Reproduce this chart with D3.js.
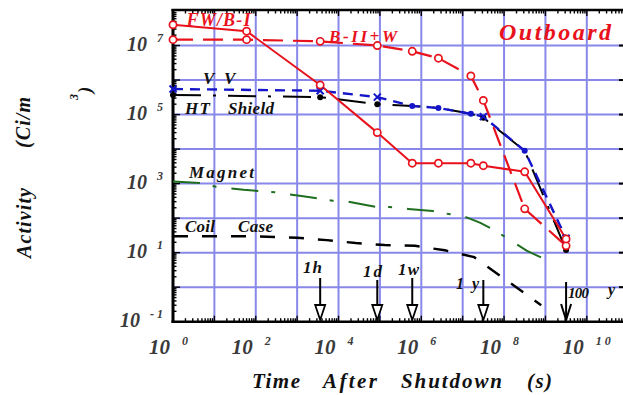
<!DOCTYPE html>
<html><head><meta charset="utf-8">
<script src="https://cdn.jsdelivr.net/npm/d3@7"></script>
<style>html,body{margin:0;padding:0;background:#fff;} svg{display:block;}</style>
</head><body>
<svg id="c" width="623" height="395"></svg>
<script>
// ---------------- data ----------------
const times   = [1, 60, 3600, 86400, 604800, 2.592e6, 1.577e7, 3.156e7, 3.156e8, 3.156e9];
const fwB1    = [4.0e7, 2.6e7, 7.2e5, 3.0e4, 3.9e3, 3.9e3, 3.9e3, 3.3e3, 2.2e3, 25];
const bIIW    = [1.48e7, 1.48e7, 1.32e7, 1.0e7, 6.8e6, 4.3e6, 1.32e6, 2.57e5, 186, 15.8];
const shieldTimes = [1, 3600, 86400, 604800, 2.592e6, 1.577e7, 3.156e7, 3.156e8, 3.156e9];
const vv      = [5.5e5, 4.9e5, 3.2e5, 1.78e5, 1.55e5, 1.05e5, 8.7e4, 8.9e3, 26];
const htShield= [3.7e5, 3.2e5, 2.0e5, 1.78e5, 1.55e5, 1.05e5, 8.1e4, 8.9e3, 12];
const magnetTimes = [1, 4.5, 11, 51, 290, 1.4e3, 7.2e3, 1.7e4, 8.5e4, 1.7e5, 4.8e5, 1.9e6, 4.9e6, 1.2e7, 2.6e7, 6e7, 1.4e8, 3.5e8, 1.4e9];
const magnet  = [1150, 1050, 810, 660, 560, 430, 320, 300, 210, 210, 185, 160, 130, 107, 74, 44, 23, 11.5, 5.2];
const coilTimes = [1, 72, 1000, 5200, 2.6e4, 1.3e5, 7.1e5, 3.7e6, 1.9e7, 7.9e8];
const coilCase  = [30, 30, 27, 23, 19, 16.6, 15.8, 11.7, 7.4, 0.3];
const markTimes = [3600, 86400, 604800, 3.156e7, 3.156e9];
const markLabels = ["1h", "1d", "1w", "1 y", "100"];
const xTickValues = [1e0, 1e2, 1e4, 1e6, 1e8, 1e10];
const xTickExp    = ["0", "2", "4", "6", "8", "1 0"];
const yTickValues = [1e-1, 1e1, 1e3, 1e5, 1e7];
const yTickExp    = ["- 1", "1", "3", "5", "7"];
const xTitleWords = ["Time", "After", "Shutdown", "(s)"];

// ---------------- setup ----------------
const svg = d3.select("#c");
const serif = "'Liberation Serif','Times New Roman',serif";
const x = d3.scaleLog().domain([1, 1e11]).range([173, 628.2]);
const y = d3.scaleLog().domain([0.1, 1e8]).range([321.7, 11]);
const RED = "#e8121c", BLUE = "#1414c8", GREEN = "#1f6e1f", GRID = "#8888ea";

function txt(g, s, px, py, size, fill, opts = {}) {
  const t = g.append("text").attr("x", px).attr("y", py)
    .attr("font-family", serif).attr("font-weight", "bold").attr("font-style", "italic")
    .attr("font-size", size).attr("fill", fill).attr("xml:space", "preserve").text(s);
  if (opts.anchor) t.attr("text-anchor", opts.anchor);
  if (opts.len) t.attr("textLength", opts.len).attr("lengthAdjust", "spacing");
  if (opts.rot) t.attr("transform", `rotate(-90,${px},${py})`);
  return t;
}

// ---------------- grid ----------------
const decX = d3.range(1, 11).map(e => Math.pow(10, e));
const decY = d3.range(0, 8).map(e => Math.pow(10, e));
const grid = svg.append("g");
grid.selectAll("line.v").data(decX).join("line")
  .attr("x1", d => x(d)).attr("x2", d => x(d)).attr("y1", 10).attr("y2", y(0.1))
  .attr("stroke", GRID).attr("stroke-width", 2);
grid.selectAll("line.h").data(decY).join("line")
  .attr("x1", x(1)).attr("x2", 623).attr("y1", d => y(d)).attr("y2", d => y(d))
  .attr("stroke", GRID).attr("stroke-width", 2);

// ---------------- axes / ticks ----------------
const ax = svg.append("g").attr("stroke", "#000");
const minorX = [];
for (let e = 0; e <= 10; e++) for (let k = 1; k <= 9; k++) { const v = k * Math.pow(10, e); if (x(v) <= 623) minorX.push({v, k}); }
const minorY = [];
for (let e = -1; e <= 7; e++) for (let k = 1; k <= 9; k++) minorY.push({v: k * Math.pow(10, e), k});
minorX.forEach(d => {
  const L = d.k === 1 ? 6 : 3.5;
  ax.append("line").attr("x1", x(d.v)).attr("x2", x(d.v)).attr("y1", 10).attr("y2", 10 + L).attr("stroke-width", 1.4);
  ax.append("line").attr("x1", x(d.v)).attr("x2", x(d.v)).attr("y1", 321.7).attr("y2", 321.7 - L).attr("stroke-width", 1.4);
});
minorY.forEach(d => {
  const L = d.k === 1 ? 7 : 3.5;
  ax.append("line").attr("x1", 173).attr("x2", 173 + L).attr("y1", y(d.v)).attr("y2", y(d.v)).attr("stroke-width", 1.4);
});
decY.forEach(v => ax.append("line").attr("x1", 628).attr("x2", 619).attr("y1", y(v)).attr("y2", y(v)).attr("stroke-width", 2));
ax.append("line").attr("x1", 171.5).attr("x2", 623).attr("y1", 10).attr("y2", 10).attr("stroke-width", 2.5);
ax.append("line").attr("x1", 171.5).attr("x2", 623).attr("y1", 321.7).attr("y2", 321.7).attr("stroke-width", 2.5);
ax.append("line").attr("x1", 173).attr("x2", 173).attr("y1", 9).attr("y2", 323).attr("stroke-width", 3);

// tick labels
const tl = svg.append("g");
xTickValues.forEach((v, i) => {
  txt(tl, "10", x(v) - 3, 353.5, 21, "#3a3a3a", {anchor: "end"});
  txt(tl, xTickExp[i], x(v) + 9, 345, 12, "#3a3a3a");
});
yTickValues.forEach((v, i) => {
  const s = txt(tl, yTickExp[i], 163, y(v) - 4, 12, "#3a3a3a", {anchor: "end"});
  const w = s.node().getComputedTextLength();
  txt(tl, "10", 163 - w - 10, y(v) + 5.5, 20, "#3a3a3a", {anchor: "end"});
});

// ---------------- series ----------------
const line = d3.line().x(d => x(d[0])).y(d => y(d[1]));
const S = svg.append("g").attr("fill", "none");
S.append("path").attr("d", line(d3.zip(coilTimes, coilCase))).attr("stroke", "#000").attr("stroke-width", 2.4).attr("stroke-dasharray", "15,14");
S.append("path").attr("d", line(d3.zip(magnetTimes, magnet))).attr("stroke", GREEN).attr("stroke-width", 2).attr("stroke-dasharray", "27,13,4,15");
S.append("path").attr("d", line(d3.zip(shieldTimes, htShield))).attr("stroke", "#000").attr("stroke-width", 2).attr("stroke-dasharray", "28,12,3,12");
S.append("path").attr("d", line(d3.zip(shieldTimes, vv))).attr("stroke", BLUE).attr("stroke-width", 2.4).attr("stroke-dasharray", "10,7");
S.append("path").attr("d", line(d3.zip(times, bIIW))).attr("stroke", RED).attr("stroke-width", 2.2).attr("stroke-dasharray", "20,10");
S.append("path").attr("d", line(d3.zip(times, fwB1))).attr("stroke", RED).attr("stroke-width", 2);

// markers
const M = svg.append("g");
const coincide = i => Math.abs(Math.log10(vv[i]) - Math.log10(htShield[i])) < 0.015;
shieldTimes.forEach((t, i) => {
  M.append("circle").attr("cx", x(t)).attr("cy", y(htShield[i])).attr("r", 3).attr("fill", coincide(i) ? BLUE : "#000");
});
shieldTimes.forEach((t, i) => {
  if (coincide(i)) return;
  const cx = x(t), cy = y(vv[i]), r = 3.5;
  M.append("path").attr("d", `M${cx - r},${cy - r}L${cx + r},${cy + r}M${cx - r},${cy + r}L${cx + r},${cy - r}`)
    .attr("stroke", BLUE).attr("stroke-width", 2);
});
[bIIW, fwB1].forEach(arr => times.forEach((t, i) => {
  M.append("circle").attr("cx", x(t)).attr("cy", y(arr[i])).attr("r", 3.6)
    .attr("fill", "#fff").attr("stroke", RED).attr("stroke-width", 1.7);
}));

// ---------------- time marker arrows ----------------
const A = svg.append("g").attr("stroke", "#000");
const arrowTop = [278, 280, 278, 280, 282];
markTimes.forEach((t, i) => {
  const ax0 = x(t);
  if (i < markTimes.length - 1) {
    A.append("line").attr("x1", ax0).attr("x2", ax0).attr("y1", arrowTop[i]).attr("y2", 306).attr("stroke-width", 2);
    A.append("path").attr("d", `M${ax0 - 5},305L${ax0 + 5},305L${ax0},320Z`).attr("fill", "#fff").attr("stroke-width", 1.8);
  } else {
    A.append("line").attr("x1", ax0).attr("x2", ax0).attr("y1", arrowTop[i]).attr("y2", 320).attr("stroke-width", 2);
    A.append("path").attr("d", `M${ax0 - 5},304L${ax0},320L${ax0 + 5},304`).attr("fill", "none").attr("stroke-width", 2);
  }
});
const L = svg.append("g");
txt(L, markLabels[0], 303, 272.5, 17, "#111", {len: 19});
txt(L, markLabels[1], 363, 276.5, 17, "#111", {len: 19});
txt(L, markLabels[2], 398, 275, 17, "#111", {len: 21});
txt(L, markLabels[3], 456, 289, 16, "#111", {len: 23});
txt(L, markLabels[4], 568, 297.5, 15, "#111", {len: 21});
txt(L, "y", 608, 295, 16, "#111");

// ---------------- series labels ----------------
txt(L, "FW/B-I", 186.5, 26, 18, RED, {len: 64});
txt(L, "B-II+W", 329, 42, 17, RED, {len: 68});
txt(L, "Outboard", 499, 39.5, 24, RED, {len: 112});
txt(L, "V", 203, 83.5, 17, "#111");
txt(L, "V", 224, 83.5, 17, "#111");
txt(L, "HT", 185, 113.5, 17, "#111", {len: 25});
txt(L, "Shield", 228, 113.5, 17, "#111", {len: 46});
txt(L, "Magnet", 189, 178, 17, "#111", {len: 65});
txt(L, "Coil", 185, 231.5, 17, "#111", {len: 30});
txt(L, "Case", 238, 231.5, 17, "#111", {len: 35});

// ---------------- axis titles ----------------
const xStarts = [252, 323, 401, 527], xLens = [48, 54, 101, 25];
xTitleWords.forEach((w, i) => txt(L, w, xStarts[i], 388, 21, "#111", {len: xLens[i]}));
txt(L, "Activity", 31, 258, 20, "#111", {rot: true, len: 70});
txt(L, "(Ci/m", 30, 148, 20, "#111", {rot: true, len: 51});
txt(L, "3", 78, 100, 12, "#111", {rot: true});
txt(L, ")", 91, 93, 19, "#111", {rot: true});
</script>
</body></html>
